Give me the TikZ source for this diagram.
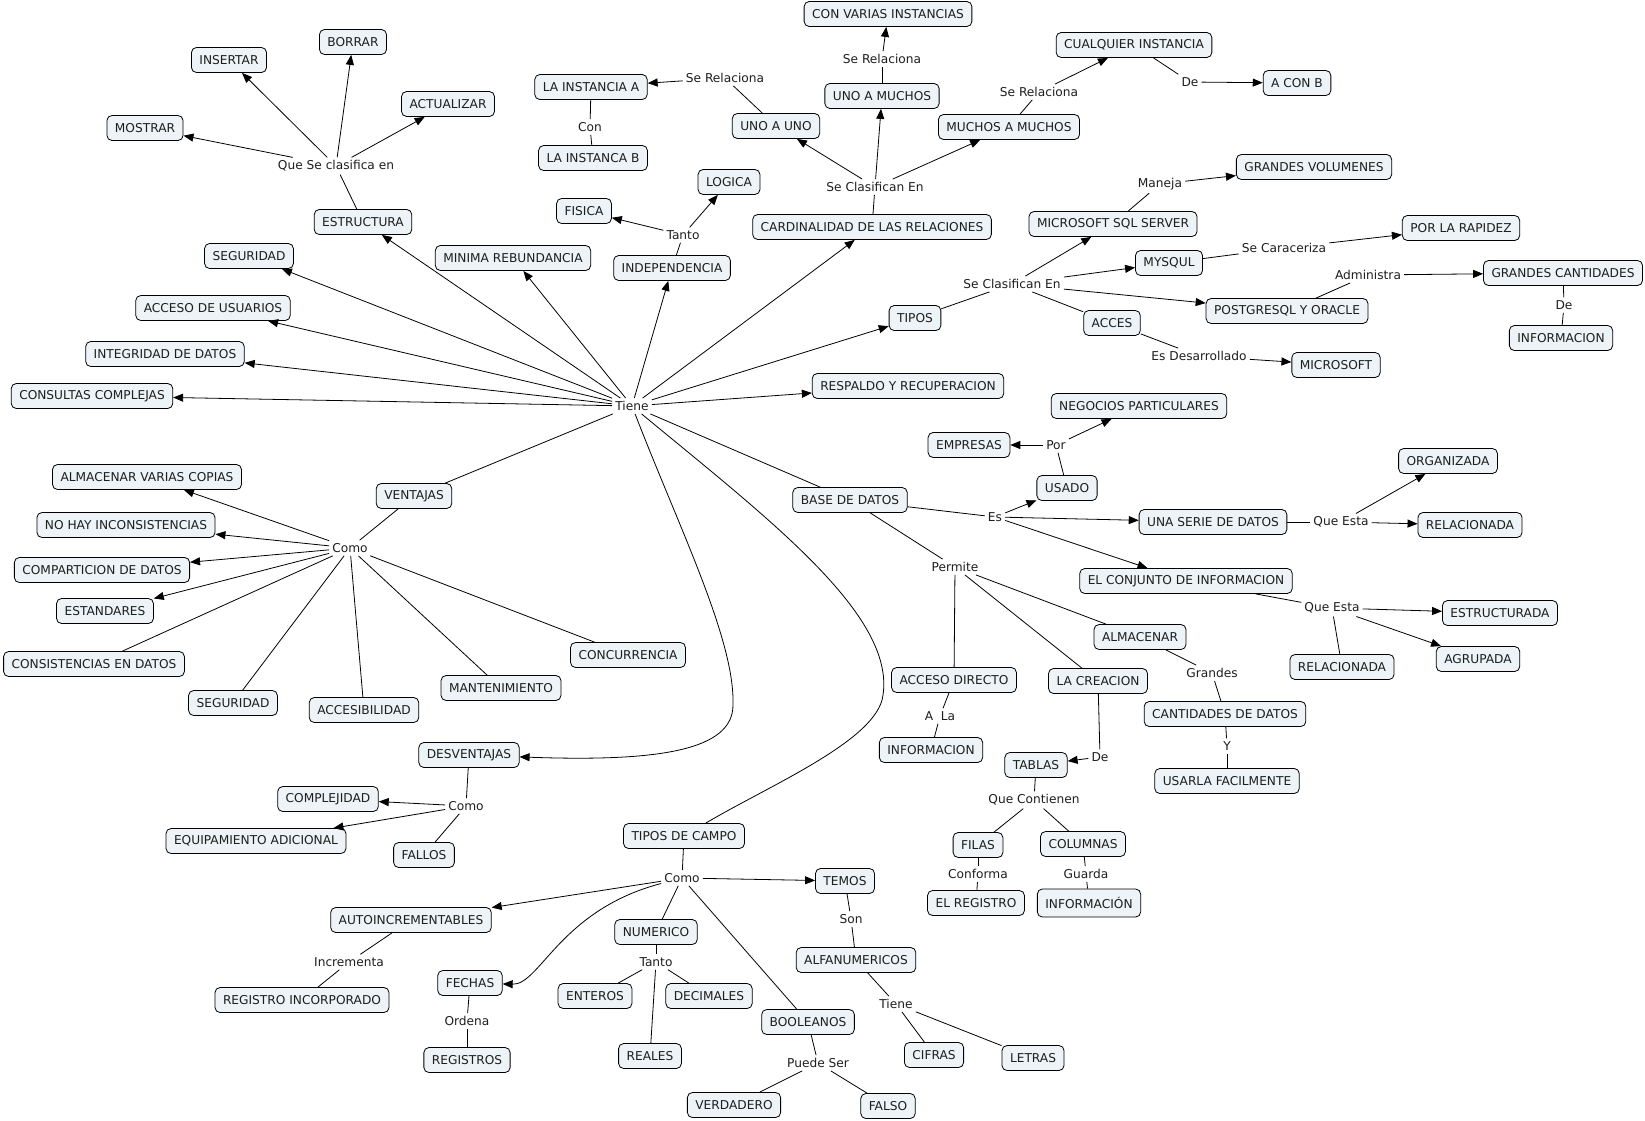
\documentclass[tikz,border=0pt]{standalone}
\usepackage{fontspec}
\setmainfont{DejaVu Sans}
\usetikzlibrary{arrows.meta}
\definecolor{boxfill}{RGB}{237,243,246}
\definecolor{txt}{RGB}{30,30,30}
\newcommand\fs{\fontsize{12.2}{14}\selectfont}
\tikzset{
 concept/.style={draw=black, line width=0.8pt, fill=boxfill, rounded corners=5pt, inner xsep=8pt, inner ysep=0pt, minimum height=25pt, text=txt, font=\fs},
 lnk/.style={inner xsep=3pt, inner ysep=3pt, text=txt, font=\fs},
 con/.style={line width=0.8pt, draw=black},
 arr/.style={con, -{Triangle[length=10pt,width=8pt]}},
}
\begin{document}
\begin{tikzpicture}[x=1pt,y=-1pt]
\fill[white] (0,0) rectangle (1645,1120);
\useasboundingbox (0,0) rectangle (1645,1120);
% concepts
\node[concept] (ins) at (229,60) {INSERTAR};
\node[concept] (bor) at (353,42) {BORRAR};
\node[concept] (act) at (448,104) {ACTUALIZAR};
\node[concept] (mos) at (145,128) {MOSTRAR};
\node[concept] (estr) at (363,222) {ESTRUCTURA};
\node[concept] (seg1) at (249,256) {SEGURIDAD};
\node[concept] (accu) at (213,308) {ACCESO DE USUARIOS};
\node[concept] (integ) at (165,354) {INTEGRIDAD DE DATOS};
\node[concept] (consc) at (92,396) {CONSULTAS COMPLEJAS};
\node[concept] (insta) at (591,87) {LA INSTANCIA A};
\node[concept] (instb) at (593,158) {LA INSTANCA B};
\node[concept] (unouno) at (776,126) {UNO A UNO};
\node[concept] (logica) at (729,182) {LOGICA};
\node[concept] (fisica) at (584,211) {FISICA};
\node[concept] (indep) at (672,268) {INDEPENDENCIA};
\node[concept] (minima) at (513,258) {MINIMA REBUNDANCIA};
\node[concept] (card) at (872,227) {CARDINALIDAD DE LAS RELACIONES};
\node[concept] (convar) at (888,14) {CON VARIAS INSTANCIAS};
\node[concept] (unomu) at (882,96) {UNO A MUCHOS};
\node[concept] (mumu) at (1009,127) {MUCHOS A MUCHOS};
\node[concept] (cualq) at (1134,45) {CUALQUIER INSTANCIA};
\node[concept] (acb) at (1297,83) {A CON B};
\node[concept] (gvol) at (1314,167) {GRANDES VOLUMENES};
\node[concept] (mssql) at (1113,224) {MICROSOFT SQL SERVER};
\node[concept] (mysql) at (1169,263) {MYSQUL};
\node[concept] (tipos) at (915,318) {TIPOS};
\node[concept] (acces) at (1112,323) {ACCES};
\node[concept] (postg) at (1287,311) {POSTGRESQL Y ORACLE};
\node[concept] (msft) at (1336,365) {MICROSOFT};
\node[concept] (rapidez) at (1461,228) {POR LA RAPIDEZ};
\node[concept] (gcant) at (1563,273) {GRANDES CANTIDADES};
\node[concept] (info1) at (1561,338) {INFORMACION};
\node[concept] (resp) at (908,386) {RESPALDO Y RECUPERACION};
\node[concept] (almcop) at (147,477) {ALMACENAR VARIAS COPIAS};
\node[concept] (nohay) at (126,525) {NO HAY INCONSISTENCIAS};
\node[concept] (compart) at (102,570) {COMPARTICION DE DATOS};
\node[concept] (estand) at (105,611) {ESTANDARES};
\node[concept] (consist) at (94,664) {CONSISTENCIAS EN DATOS};
\node[concept] (seg2) at (233,703) {SEGURIDAD};
\node[concept] (accesib) at (364,710) {ACCESIBILIDAD};
\node[concept] (vent) at (414,496) {VENTAJAS};
\node[concept] (concur) at (628,655) {CONCURRENCIA};
\node[concept] (mant) at (501,688) {MANTENIMIENTO};
\node[concept] (bdd) at (850,500) {BASE DE DATOS};
\node[concept] (negoc) at (1139,406) {NEGOCIOS PARTICULARES};
\node[concept] (empr) at (969,445) {EMPRESAS};
\node[concept] (usado) at (1067,488) {USADO};
\node[concept] (serie) at (1213,522) {UNA SERIE DE DATOS};
\node[concept] (conj) at (1186,581) {EL CONJUNTO DE INFORMACION};
\node[concept] (almac) at (1140,637) {ALMACENAR};
\node[concept] (accdir) at (954,680) {ACCESO DIRECTO};
\node[concept] (creac) at (1098,681) {LA CREACION};
\node[concept] (cantd) at (1225,714) {CANTIDADES DE DATOS};
\node[concept] (info2) at (931,750) {INFORMACION};
\node[concept] (organ) at (1448,461) {ORGANIZADA};
\node[concept] (rel1) at (1470,525) {RELACIONADA};
\node[concept] (estruc) at (1500,613) {ESTRUCTURADA};
\node[concept] (agrup) at (1478,659) {AGRUPADA};
\node[concept] (rel2) at (1342,667) {RELACIONADA};
\node[concept] (usarla) at (1227,781) {USARLA FACILMENTE};
\node[concept] (tablas) at (1036,765) {TABLAS};
\node[concept] (filas) at (978,845) {FILAS};
\node[concept] (colum) at (1083,844) {COLUMNAS};
\node[concept] (elreg) at (976,903) {EL REGISTRO};
\node[concept, minimum height=28pt] (infoacc) at (1089,903) {INFORMACIÓN};
\node[concept] (complej) at (328,799) {COMPLEJIDAD};
\node[concept] (equip) at (256,841) {EQUIPAMIENTO ADICIONAL};
\node[concept] (fallos) at (424,855) {FALLOS};
\node[concept] (desv) at (469,755) {DESVENTAJAS};
\node[concept] (autoinc) at (411,920) {AUTOINCREMENTABLES};
\node[concept] (reginc) at (302,1000) {REGISTRO INCORPORADO};
\node[concept] (tdc) at (684,836) {TIPOS DE CAMPO};
\node[concept] (temos) at (845,881) {TEMOS};
\node[concept] (numer) at (656,932) {NUMERICO};
\node[concept] (fechas) at (470,983) {FECHAS};
\node[concept] (registros) at (467,1060) {REGISTROS};
\node[concept] (enteros) at (595,996) {ENTEROS};
\node[concept] (decim) at (709,996) {DECIMALES};
\node[concept] (reales) at (650,1056) {REALES};
\node[concept] (bool) at (808,1022) {BOOLEANOS};
\node[concept] (verd) at (734,1105) {VERDADERO};
\node[concept] (falso) at (888,1106) {FALSO};
\node[concept] (alfa) at (856,960) {ALFANUMERICOS};
\node[concept] (cifras) at (934,1055) {CIFRAS};
\node[concept] (letras) at (1033,1058) {LETRAS};
% linking phrases
\node[lnk] (lqsc) at (336,166) {Que Se clasifica en};
\node[lnk] (ltiene) at (632,406) {Tiene};
\node[lnk] (lsr1) at (725,78) {Se Relaciona};
\node[lnk] (lcon) at (590,127) {Con};
\node[lnk] (ltanto) at (683,235) {Tanto};
\node[lnk] (lsce1) at (875,187) {Se Clasifican En};
\node[lnk] (lsr2) at (882,59) {Se Relaciona};
\node[lnk] (lsr3) at (1039,92) {Se Relaciona};
\node[lnk] (lde1) at (1190,82) {De};
\node[lnk] (lmaneja) at (1160,184) {Maneja};
\node[lnk] (lsce2) at (1012,284) {Se Clasifican En};
\node[lnk] (lcarac) at (1284,248) {Se Caraceriza};
\node[lnk] (ladmin) at (1368,275) {Administra};
\node[lnk] (lde2) at (1564,305) {De};
\node[lnk] (lesdes) at (1199,356) {Es Desarrollado};
\node[lnk] (lpor) at (1056,445) {Por};
\node[lnk] (les) at (995,517) {Es};
\node[lnk] (lqe1) at (1341,522) {Que Esta};
\node[lnk] (lqe2) at (1332,608) {Que Esta};
\node[lnk] (lperm) at (955,567) {Permite};
\node[lnk] (lgrand) at (1212,673) {Grandes};
\node[lnk] (lala) at (940,716) {A\ \ La};
\node[lnk] (ly) at (1227,746) {Y};
\node[lnk] (lde3) at (1100,757) {De};
\node[lnk] (lqc) at (1034,800) {Que Contienen};
\node[lnk] (lconf) at (978,874) {Conforma};
\node[lnk] (lguarda) at (1086,874) {Guarda};
\node[lnk] (lcomo1) at (350,548) {Como};
\node[lnk] (lcomo2) at (466,806) {Como};
\node[lnk] (lcomo3) at (682,878) {Como};
\node[lnk] (lincr) at (349,962) {Incrementa};
\node[lnk] (lordena) at (467,1021) {Ordena};
\node[lnk] (ltanto2) at (656,962) {Tanto};
\node[lnk] (lpuede) at (818,1063) {Puede Ser};
\node[lnk] (lson) at (851,919) {Son};
\node[lnk] (ltiene2) at (896,1004) {Tiene};
% connectors
\draw[con] (estr) -- (lqsc);
\foreach \t in {ins,bor,act,mos} \draw[arr] (lqsc) -- (\t);
\foreach \t in {estr,seg1,accu,integ,consc,minima,indep,card,tipos,resp} \draw[arr] (ltiene) -- (\t);
\draw[con] (ltiene) -- (vent);
\draw[con] (ltiene) -- (bdd);
\draw[arr] (ltiene) .. controls (680,530) and (735,640) .. (733,705) .. controls (733,750) and (660,762) .. (desv);
\draw[con] (ltiene) .. controls (770,520) and (895,615) .. (883,695) .. controls (878,740) and (770,785) .. (tdc);
\draw[con] (indep) -- (ltanto);
\draw[arr] (ltanto) -- (fisica);
\draw[arr] (ltanto) -- (logica);
\draw[con] (card) -- (lsce1);
\foreach \t in {unouno,unomu,mumu} \draw[arr] (lsce1) -- (\t);
\draw[con] (unouno) -- (lsr1);
\draw[arr] (lsr1) -- (insta);
\draw[con] (insta) -- (lcon);
\draw[con] (lcon) -- (instb);
\draw[con] (unomu) -- (lsr2);
\draw[arr] (lsr2) -- (convar);
\draw[con] (mumu) -- (lsr3);
\draw[arr] (lsr3) -- (cualq);
\draw[con] (cualq) -- (lde1);
\draw[arr] (lde1) -- (acb);
\draw[con] (tipos) -- (lsce2);
\foreach \t in {mssql,mysql,postg} \draw[arr] (lsce2) -- (\t);
\draw[con] (lsce2) -- (acces);
\draw[con] (mssql) -- (lmaneja);
\draw[arr] (lmaneja) -- (gvol);
\draw[con] (mysql) -- (lcarac);
\draw[arr] (lcarac) -- (rapidez);
\draw[con] (postg) -- (ladmin);
\draw[arr] (ladmin) -- (gcant);
\draw[con] (gcant) -- (lde2);
\draw[con] (lde2) -- (info1);
\draw[con] (acces) -- (lesdes);
\draw[arr] (lesdes) -- (msft);
\draw[con] (bdd) -- (les);
\foreach \t in {usado,serie,conj} \draw[arr] (les) -- (\t);
\draw[con] (usado) -- (lpor);
\draw[arr] (lpor) -- (empr);
\draw[arr] (lpor) -- (negoc);
\draw[con] (serie) -- (lqe1);
\draw[arr] (lqe1) -- (organ);
\draw[arr] (lqe1) -- (rel1);
\draw[con] (conj) -- (lqe2);
\draw[arr] (lqe2) -- (estruc);
\draw[arr] (lqe2) -- (agrup);
\draw[con] (lqe2) -- (rel2);
\draw[con] (bdd) -- (lperm);
\foreach \t in {accdir,creac,almac} \draw[con] (lperm) -- (\t);
\draw[con] (accdir) -- (lala);
\draw[con] (lala) -- (info2);
\draw[con] (almac) -- (lgrand);
\draw[con] (lgrand) -- (cantd);
\draw[con] (cantd) -- (ly);
\draw[con] (ly) -- (usarla);
\draw[con] (creac) -- (lde3);
\draw[arr] (lde3) -- (tablas);
\draw[con] (tablas) -- (lqc);
\draw[con] (lqc) -- (filas);
\draw[con] (lqc) -- (colum);
\draw[con] (filas) -- (lconf);
\draw[con] (lconf) -- (elreg);
\draw[con] (colum) -- (lguarda);
\draw[con] (lguarda) -- (infoacc);
\draw[con] (vent) -- (lcomo1);
\foreach \t in {almcop,nohay,compart,estand} \draw[arr] (lcomo1) -- (\t);
\foreach \t in {consist,seg2,accesib,mant,concur} \draw[con] (lcomo1) -- (\t);
\draw[con] (desv) -- (lcomo2);
\draw[arr] (lcomo2) -- (complej);
\draw[arr] (lcomo2) -- (equip);
\draw[con] (lcomo2) -- (fallos);
\draw[con] (tdc) -- (lcomo3);
\draw[arr] (lcomo3) -- (autoinc);
\draw[arr] (lcomo3) .. controls (560,910) and (540,985) .. (fechas);
\draw[arr] (lcomo3) -- (temos);
\draw[con] (lcomo3) -- (numer);
\draw[con] (lcomo3) -- (bool);
\draw[con] (autoinc) -- (lincr);
\draw[con] (lincr) -- (reginc);
\draw[con] (fechas) -- (lordena);
\draw[con] (lordena) -- (registros);
\draw[con] (numer) -- (ltanto2);
\foreach \t in {enteros,decim,reales} \draw[con] (ltanto2) -- (\t);
\draw[con] (bool) -- (lpuede);
\draw[con] (lpuede) -- (verd);
\draw[con] (lpuede) -- (falso);
\draw[con] (temos) -- (lson);
\draw[con] (lson) -- (alfa);
\draw[con] (alfa) -- (ltiene2);
\draw[con] (ltiene2) -- (cifras);
\draw[con] (ltiene2) -- (letras);
\end{tikzpicture}
\end{document}
